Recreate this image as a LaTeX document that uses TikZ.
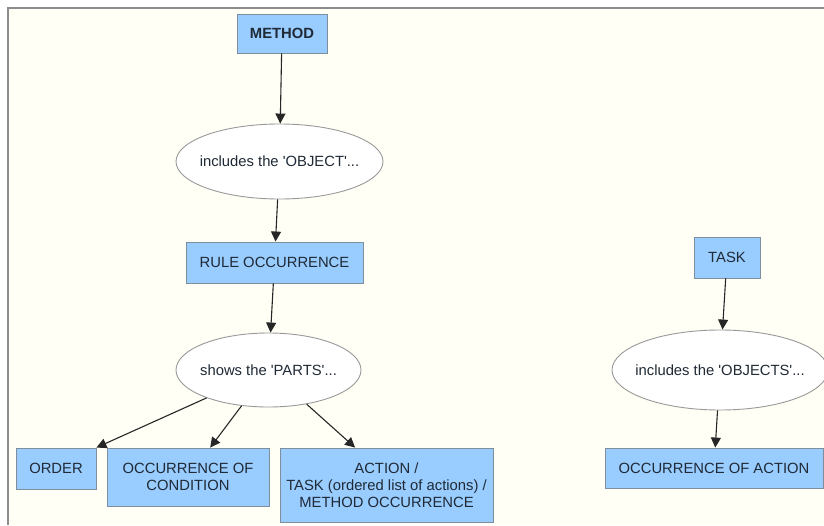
\documentclass[tikz,border=0pt]{standalone}
\usepackage{fontspec}
\setmainfont{Liberation Sans}
\usetikzlibrary{arrows.meta, positioning, shapes.geometric}

\definecolor{boxblue}{HTML}{99CCFF}
\definecolor{boxline}{HTML}{7F8E9C}
\definecolor{inkdark}{HTML}{1F2A36}
\definecolor{paper}{HTML}{FFFFF6}

\newcommand{\sq}{\textquotesingle}

\begin{document}
\begin{tikzpicture}[
						x=1pt, y=-1pt,
						font=\fontsize{14.8}{17}\selectfont,
						text=inkdark,
						box/.style = {draw=boxline, fill=boxblue, rectangle, line width=0.9pt, align=center, inner sep=0pt},
						bubble/.style = {draw=gray!80, fill=white, ellipse, line width=0.9pt, inner ysep=0pt, inner xsep=-9pt},
						link/.style = {->, draw=black!85, line width=1.1pt},
						>={Triangle[length=10pt, width=10pt]}
					]
% canvas
\useasboundingbox (0,0) rectangle (824,525);
\fill[white] (0,0) rectangle (824,525);
\fill[paper] (8,8) rectangle (824,525);
\draw[gray!90, line width=1.5pt] (8,525) -- (8,8) -- (824,8);
\clip (8,8) rectangle (824,525);

% left tree
\node[box, minimum width=90pt, minimum height=39pt, font=\fontsize{14.8}{17}\selectfont\bfseries] (method) at (282,33.5) {METHOD};
\node[bubble, minimum width=207pt, minimum height=75pt] (object) at (279.5,161.5) {includes the \sq OBJECT\sq...};
\node[box, minimum width=177pt, minimum height=41pt] (rule) at (274.5,262.5) {RULE OCCURRENCE};
\node[bubble, minimum width=185pt, minimum height=74pt] (parts) at (268.5,370) {shows the \sq PARTS\sq...};
\node[box, minimum width=80pt, minimum height=41pt] (order) at (56,468.5) {ORDER};
\node[box, minimum width=162pt, minimum height=58pt] (cond) at (188,477) {OCCURRENCE OF\\CONDITION};
\node[box, minimum width=213pt, minimum height=74pt] (action) at (386.5,485) {ACTION /\\TASK (ordered list of actions) /\\METHOD OCCURRENCE};

% right tree
\node[box, minimum width=66pt, minimum height=41pt] (task) at (727,257.5) {TASK};
\node[bubble, minimum width=216pt, minimum height=80pt] (objects) at (720,370) {includes the \sq OBJECTS\sq...};
\node[box, minimum width=218pt, minimum height=40pt] (occaction) at (714,468) {OCCURRENCE OF ACTION};

\draw[link] (method) -- (object);
\draw[link] (object) -- (rule);
\draw[link] (rule) -- (parts);
\draw[link] (parts) -- (order.north east);
\draw[link] (parts) -- (cond.53);
\draw[link] (parts) -- (action.130);
\draw[link] (task) -- (objects);
\draw[link] (objects) -- (occaction);
\end{tikzpicture}
\end{document}
